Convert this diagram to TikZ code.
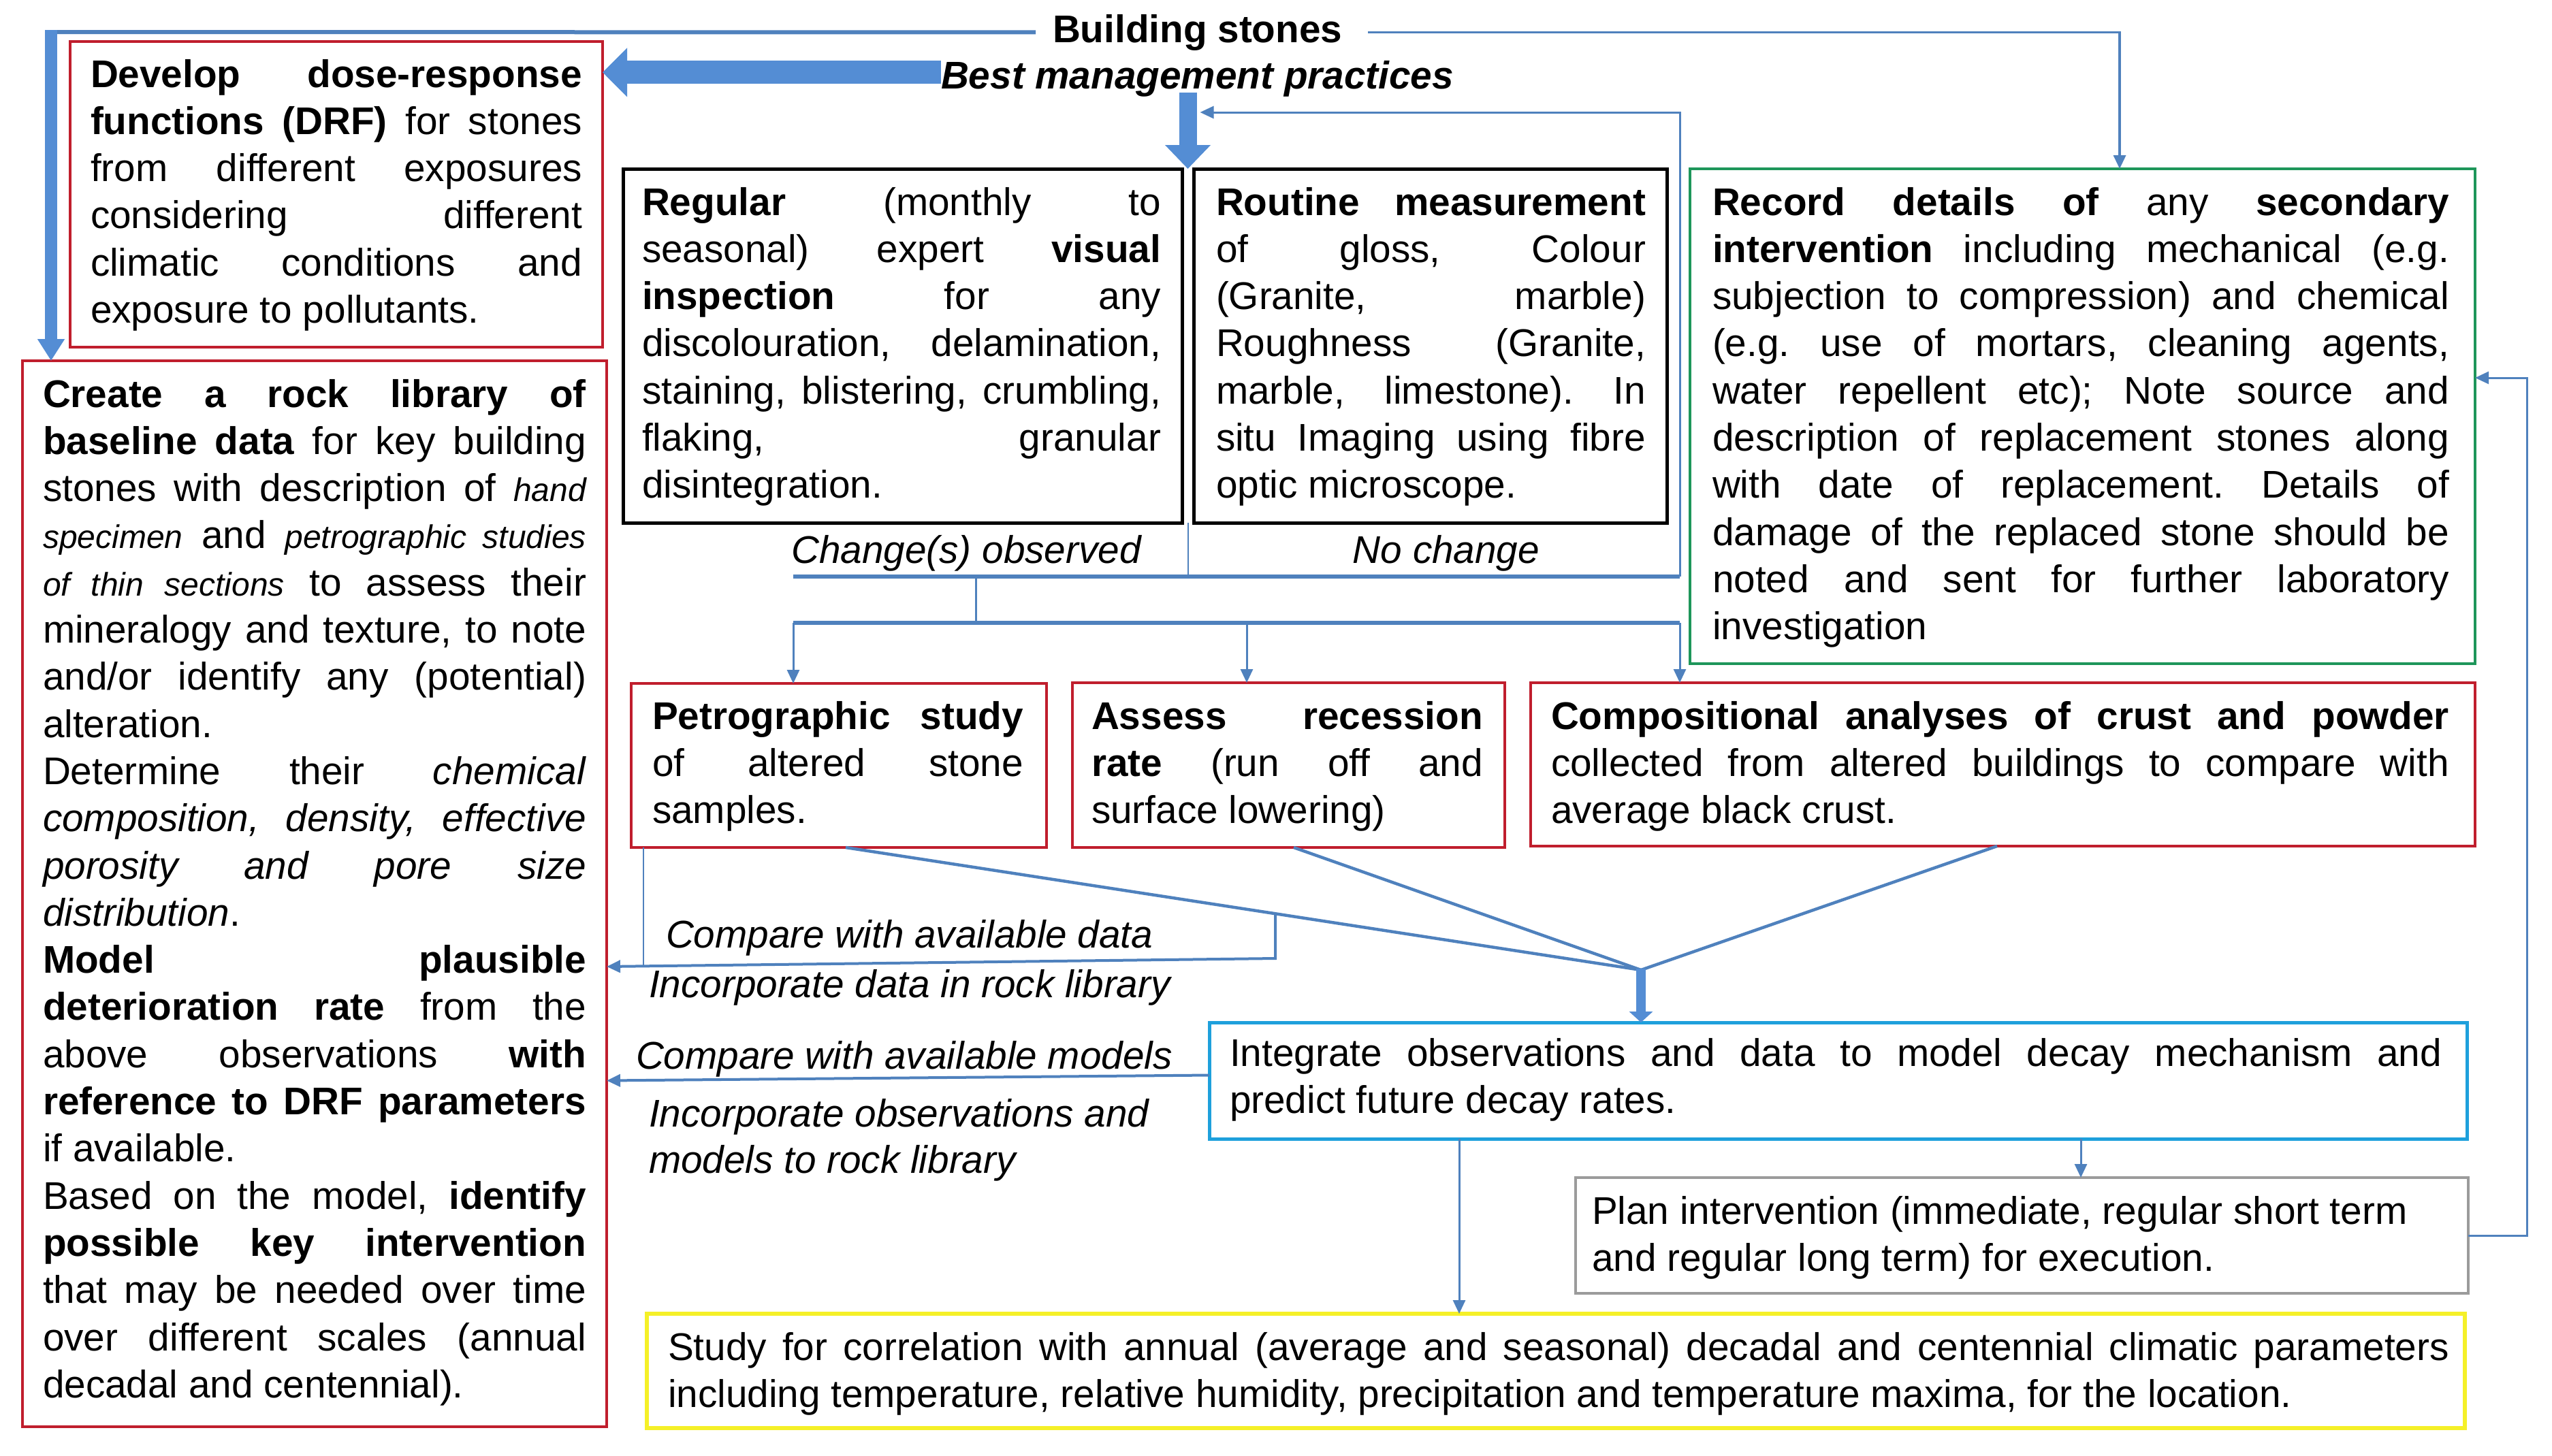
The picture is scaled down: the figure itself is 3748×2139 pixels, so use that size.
\documentclass[tikz,border=0pt]{standalone}
\usepackage{fontspec}
\setmainfont{Liberation Sans}
\usetikzlibrary{arrows.meta,calc}
\definecolor{cblue}{RGB}{79,129,189}
\definecolor{fblue}{RGB}{84,141,212}
\definecolor{rred}{RGB}{192,30,45}
\definecolor{ggreen}{RGB}{30,150,90}
\definecolor{cyanb}{RGB}{30,160,220}
\definecolor{ggray}{RGB}{155,155,155}
\definecolor{yel}{RGB}{245,240,40}
\newdimen\Lm \newdimen\Tw
\hbadness=10000 \hfuzz=20pt
\newcommand\J[1]{\hbox to\hsize{\hskip\Lm\hbox to\Tw{\vrule height50.7pt depth18.6pt width0pt #1}\hss}}
\newcommand\Lf[1]{\hbox to\hsize{\hskip\Lm\hbox to\Tw{\vrule height50.7pt depth18.6pt width0pt #1\hfil}\hss}}
\newcommand\BX[6]{\vbox to #2{\hsize=#1\relax\Lm=#3\relax\Tw=#4\relax\frenchspacing\offinterlineskip\vskip\dimexpr#5-50.7pt\relax #6\vfil}}
\newcommand\si[1]{{\fontsize{48}{69.3}\selectfont\itshape #1}}
\begin{document}
\begin{tikzpicture}[x=1pt,y=-1pt,
  every node/.style={inner sep=0pt, outer sep=0pt, font=\fontsize{56.7}{69.3}\selectfont\frenchspacing},
  rbox/.style={draw=rred, line width=4.5pt, anchor=north west},
  kbox/.style={draw=black, line width=5pt, anchor=north west},
  gbox/.style={draw=ggreen, line width=4.5pt, anchor=north west},
  cbox/.style={draw=cyanb, line width=5pt, anchor=north west},
  pbox/.style={draw=ggray, line width=4.5pt, anchor=north west},
  ybox/.style={draw=yel, line width=6pt, anchor=north west},
  conn/.style={draw=cblue, line width=3pt},
  arr/.style={conn, -{Triangle[length=20pt,width=18pt]}},
  bar/.style={draw=cblue, line width=5.5pt},
  lbl/.style={font=\fontsize{56.7}{69.3}\selectfont\itshape}
]
\useasboundingbox (0,0) rectangle (3748,2139);

% headers
\node[anchor=base west] (bs) at (1546,62) {\textbf{Building stones}};
\node[anchor=base west] (bmp) at (1382,130) {\textbf{\textit{Best management practices}}};

% boxes
\node[rbox] (drf) at (103,61) {\BX{782pt}{449pt}{30pt}{722pt}{67pt}{%
\J{\textbf{Develop dose-response}}
\J{\textbf{functions (DRF)} for stones}
\J{from different exposures}
\J{considering different}
\J{climatic conditions and}
\Lf{exposure to pollutants.}}};

\node[rbox] (create) at (33,530) {\BX{858pt}{1566pt}{30pt}{798pt}{68pt}{%
\J{\textbf{Create a rock library of}}
\J{\textbf{baseline data} for key building}
\J{stones with description of \si{hand}}
\J{\si{specimen} and \si{petrographic studies}}
\J{\si{of thin sections} to assess their}
\J{mineralogy and texture, to note}
\J{and/or identify any (potential)}
\Lf{alteration.}
\J{Determine their \textit{chemical}}
\J{\textit{composition, density, effective}}
\J{\textit{porosity and pore size}}
\Lf{\textit{distribution}.}
\J{\textbf{Model plausible}}
\J{\textbf{deterioration rate} from the}
\J{above observations \textbf{with}}
\J{\textbf{reference to DRF parameters}}
\Lf{if available.}
\J{Based on the model, \textbf{identify}}
\J{\textbf{possible key intervention}}
\J{that may be needed over time}
\J{over different scales (annual}
\Lf{decadal and centennial).}}};

\node[kbox] (regular) at (915,248) {\BX{821pt}{520pt}{28pt}{762pt}{68pt}{%
\J{\textbf{Regular} (monthly to}
\J{seasonal) expert \textbf{visual}}
\J{\textbf{inspection} for any}
\J{discolouration, delamination,}
\J{staining, blistering, crumbling,}
\J{flaking, granular}
\Lf{disintegration.}}};

\node[kbox] (routine) at (1753,248) {\BX{695pt}{520pt}{33pt}{631pt}{68pt}{%
\J{\textbf{Routine measurement}}
\J{of gloss, Colour}
\J{(Granite, marble)}
\J{Roughness (Granite,}
\J{marble, limestone). In}
\J{situ Imaging using fibre}
\Lf{optic microscope.}}};

\node[gbox] (record) at (2482,248) {\BX{1153pt}{727pt}{33pt}{1082pt}{68pt}{%
\J{\textbf{Record details of} any \textbf{secondary}}
\J{\textbf{intervention} including mechanical (e.g.}
\J{subjection to compression) and chemical}
\J{(e.g. use of mortars, cleaning agents,}
\J{water repellent etc); Note source and}
\J{description of replacement stones along}
\J{with date of replacement. Details of}
\J{damage of the replaced stone should be}
\J{noted and sent for further laboratory}
\Lf{investigation}}};

\node[rbox] (petro) at (927,1004) {\BX{610pt}{241pt}{31pt}{545pt}{67pt}{%
\J{\textbf{Petrographic study}}
\J{of altered stone}
\Lf{samples.}}};

\node[rbox] (assess) at (1575,1003) {\BX{635pt}{242pt}{28pt}{575pt}{68pt}{%
\J{\textbf{Assess recession}}
\J{\textbf{rate} (run off and}
\Lf{surface lowering)}}};

\node[rbox] (comp) at (2248,1003) {\BX{1387pt}{240pt}{30pt}{1319pt}{68pt}{%
\J{\textbf{Compositional analyses of crust and powder}}
\J{collected from altered buildings to compare with}
\Lf{average black crust.}}};

\node[cbox] (integ) at (1776,1502) {\BX{1847pt}{171pt}{30pt}{1780pt}{64pt}{%
\J{Integrate observations and data to model decay mechanism and}
\Lf{predict future decay rates.}}};

\node[pbox] (plan) at (2314,1730) {\BX{1311pt}{170pt}{24pt}{1250pt}{68pt}{%
\Lf{Plan intervention (immediate, regular short term}
\Lf{and regular long term) for execution.}}};

\node[ybox] (study) at (950,1930) {\BX{2670pt}{168pt}{31pt}{2616pt}{68pt}{%
\J{Study for correlation with annual (average and seasonal) decadal and centennial climatic parameters}
\Lf{including temperature, relative humidity, precipitation and temperature maxima, for the location.}}};

% labels
\node[lbl, anchor=base] (chg) at (1419,827) {Change(s) observed};
\node[lbl, anchor=base] (noc) at (2124,827) {No change};
\node[lbl, anchor=base west] (cad) at (978,1392) {Compare with available data};
\node[lbl, anchor=base west] (idl) at (953,1465) {Incorporate data in rock library};
\node[lbl, anchor=base west] (cam) at (934,1570) {Compare with available models};
\node[lbl, anchor=base west] (iom) at (953,1655) {Incorporate observations and};
\node[lbl, anchor=base west] (iom2) at (953,1723) {models to rock library};

% coordinates
\coordinate (tl) at (75,47);
\coordinate (gap) at ($(regular.north east)!0.5!(routine.north west)$);
\coordinate (gapb) at ($(regular.south east)!0.5!(routine.south west)$);
\coordinate (j1) at (1165,847);
\coordinate (j2) at (2467,847);
\coordinate (j3) at (1433,847);
\coordinate (j4) at (1433,915);
\coordinate (nct) at (2467,165);
\coordinate (k1) at (1165,915);
\coordinate (k2) at (1831,915);
\coordinate (k3) at (2467,915);
\coordinate (conv) at (2410,1425);
\coordinate (b1) at (1873,1342);
\coordinate (b2) at (1873,1408);
\coordinate (b3) at (945,1419);
\coordinate (pb) at ([xshift=18pt]petro.south west);
\coordinate (i2s) at ([xshift=367pt]integ.south west);
\coordinate (i2p) at ([xshift=1280pt]integ.south west);
\coordinate (pr1) at (3711,1815);
\coordinate (pr2) at (3711,555);
\coordinate (r1) at ([xshift=631pt]record.north west);

% Building stones connectors
\draw[cblue, line width=6pt] ([xshift=-25pt]bs.west) -- ([xshift=-8pt]tl);
\draw[fblue, line width=18pt, -{Triangle[length=32pt,width=38pt]}] ([yshift=3pt]tl) -- (tl |- create.north);
\draw[arr, line width=3.5pt] ([xshift=38pt]bs.east) -| (r1);

% best management practices arrows
\draw[fblue, line width=34pt, -{Triangle[length=36pt,width=70pt]}] ([yshift=9pt]bmp.west) -- ([yshift=9pt]bmp.west -| drf.east);
\draw[fblue, line width=26pt, -{Triangle[length=35pt,width=65pt]}] ([yshift=6pt]gap |- bmp.south) -- (gap);

% change / no change
\draw[conn, line width=2pt] (gapb) -- (gapb |- j1);
\draw[arr] (j2) -- (nct) -- ([xshift=18pt]gap |- nct);
\draw[bar] (j1) -- (j2);
\draw[conn] (j3) -- (j4);
\draw[bar] (k1) -- (k3);
\draw[arr] (k1) -- (k1 |- petro.north);
\draw[arr] (k2) -- (k2 |- assess.north);
\draw[arr] (k3) -- (k3 |- comp.north);

% convergence
\draw[conn, line width=4.5pt] ([xshift=315pt]petro.south west) -- (conv);
\draw[conn, line width=4.5pt] ([xshift=325pt]assess.south west) -- (conv);
\draw[conn, line width=4.5pt] ([xshift=685pt]comp.south west) -- (conv);
\draw[fblue, line width=14pt, -{Triangle[length=16pt,width=34pt]}] ([yshift=2pt]conv) -- (conv |- integ.north);

% back to rock library
\draw[conn, line width=2.5pt] (pb) -- (b3);
\draw[arr, line width=4pt] (b1) -- (b2) -- (create.east |- 0,1420);
\draw[arr, line width=4pt] ([yshift=8pt]integ.west) -- (create.east |- integ.west);

% integrate outputs
\draw[arr] (i2s) -- (i2s |- study.north);
\draw[arr] (i2p) -- (i2p |- plan.north);
\draw[arr] (plan.east) -- (pr1) -- (pr2) -- (record.east |- pr2);
\end{tikzpicture}
\end{document}
